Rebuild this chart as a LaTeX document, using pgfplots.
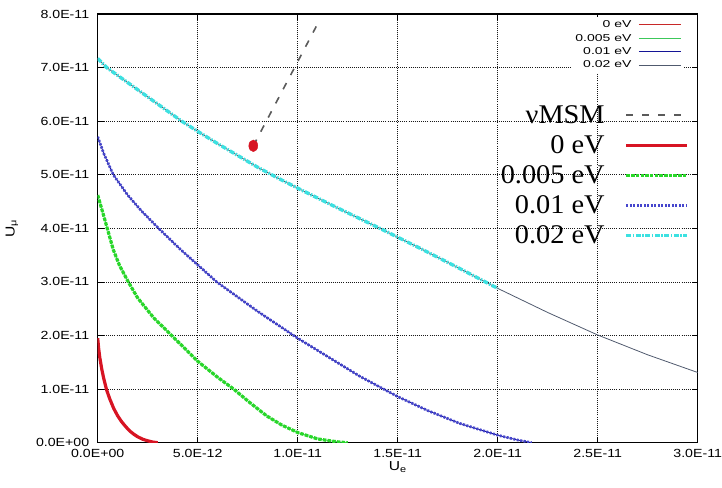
\documentclass[border=0pt]{standalone}
\usepackage{pgfplots}
\pgfplotsset{compat=1.18}
\usepackage{pgfplotstable}
\usepackage{fontspec}
\setmainfont{Liberation Sans}
\newfontfamily\ticksf[FakeStretch=1.2]{Liberation Sans}
\newfontfamily\legsf[FakeStretch=1.4]{Liberation Sans}
\newfontfamily\legrm[FakeStretch=1.05]{Liberation Serif}

\definecolor{cRed}{RGB}{215,20,35}
\definecolor{cGreen}{RGB}{40,215,40}
\definecolor{cBlue}{RGB}{70,70,205}
\definecolor{cCyan}{RGB}{60,225,225}
\definecolor{tRed}{RGB}{200,40,40}
\definecolor{tGreen}{RGB}{60,200,90}
\definecolor{tBlue}{RGB}{20,20,150}
\definecolor{tGray}{RGB}{80,90,110}
\definecolor{nuGray}{RGB}{90,90,90}

\pgfplotstableread{
x y
0 1.95e-11
0.05e-12 1.75e-11
0.1e-12 1.6e-11
0.2e-12 1.38e-11
0.3e-12 1.2e-11
0.45e-12 0.98e-11
0.6e-12 0.82e-11
0.8e-12 0.64e-11
1.0e-12 0.5e-11
1.2e-12 0.39e-11
1.4e-12 0.3e-11
1.6e-12 0.22e-11
1.8e-12 0.16e-11
2.0e-12 0.11e-11
2.25e-12 0.065e-11
2.5e-12 0.035e-11
2.75e-12 0.012e-11
3.0e-12 0
}\tabRed

\pgfplotstableread{
x y
0 4.62e-11
0.25e-12 4.3e-11
0.5e-12 3.97e-11
0.78e-12 3.6e-11
1.1e-12 3.3e-11
1.53e-12 3.0e-11
2.0e-12 2.7e-11
2.8e-12 2.33e-11
3.7e-12 2.0e-11
5.0e-12 1.52e-11
6.0e-12 1.22e-11
6.8e-12 1.0e-11
7.6e-12 0.75e-11
8.45e-12 0.5e-11
9.2e-12 0.33e-11
10e-12 0.19e-11
11e-12 0.07e-11
12e-12 0.015e-11
12.5e-12 0
}\tabGreen

\pgfplotstableread{
x y
0 5.71e-11
0.3e-12 5.4e-11
0.78e-12 5.0e-11
1.5e-12 4.62e-11
2.2e-12 4.32e-11
3.1e-12 3.98e-11
4.1e-12 3.62e-11
5.95e-12 3.0e-11
8.0e-12 2.45e-11
10e-12 1.95e-11
13.1e-12 1.24e-11
15e-12 0.86e-11
16.5e-12 0.6e-11
18.1e-12 0.36e-11
20e-12 0.14e-11
21e-12 0.05e-11
21.7e-12 0
}\tabBlue

\pgfplotstableread{
x y
0 7.17e-11
0.45e-12 7.0e-11
1.5e-12 6.72e-11
3e-12 6.32e-11
4.2e-12 6.0e-11
5e-12 5.81e-11
6e-12 5.58e-11
7e-12 5.36e-11
8e-12 5.14e-11
9e-12 4.94e-11
10e-12 4.75e-11
12e-12 4.38e-11
14e-12 4.02e-11
16e-12 3.65e-11
18e-12 3.27e-11
20e-12 2.88e-11
}\tabCyan

\pgfplotstableread{
x y
0 7.17e-11
0.45e-12 7.0e-11
1.5e-12 6.72e-11
3e-12 6.32e-11
4.2e-12 6.0e-11
5e-12 5.81e-11
6e-12 5.58e-11
7e-12 5.36e-11
8e-12 5.14e-11
9e-12 4.94e-11
10e-12 4.75e-11
12e-12 4.38e-11
14e-12 4.02e-11
16e-12 3.65e-11
18e-12 3.27e-11
20e-12 2.88e-11
22.5e-12 2.43e-11
25e-12 2.01e-11
27.5e-12 1.64e-11
30e-12 1.31e-11
}\tabGray

\begin{document}
\begin{tikzpicture}
\useasboundingbox (-97.7pt,-44.3pt) rectangle (624.3pt,442.7pt);
\pgfplotsset{base/.style={scale only axis, width=600pt, height=428.7pt,
  xmin=0, xmax=3e-11, ymin=0, ymax=8e-11, at={(0pt,0pt)}, anchor=south west,
  scaled ticks=false}}
\begin{axis}[base,
  xtick={0,5e-12,1e-11,1.5e-11,2e-11,2.5e-11,3e-11},
  xticklabels={0.0E+00,5.0E-12,1.0E-11,1.5E-11,2.0E-11,2.5E-11,3.0E-11},
  ytick={0,1e-11,2e-11,3e-11,4e-11,5e-11,6e-11,7e-11,8e-11},
  yticklabels={0.0E+00,1.0E-11,2.0E-11,3.0E-11,4.0E-11,5.0E-11,6.0E-11,7.0E-11,8.0E-11},
  tick label style={font=\ticksf\fontsize{11.8}{13}\selectfont},
  xticklabel style={yshift=-3pt},
  yticklabel style={xshift=-5pt},
  tick align=inside, major tick length=6pt, tick style={black,line width=0.8pt},
  axis line style={black, line width=1.3pt},
  grid=major, grid style={black!90, line width=0.7pt, dash pattern=on 1pt off 1.1pt},
  xlabel={U\textsubscript{e}}, ylabel={U\textsubscript{μ}},
  label style={font=\ticksf\fontsize{13}{15}\selectfont},
  xlabel style={at={(axis description cs:0.5,-0.056)}, anchor=center},
  ylabel style={at={(axis description cs:-0.143,0.5)}, anchor=center},
  legend style={at={(0.978,0.994)}, anchor=north east, draw=none, fill=white,
    inner sep=3pt, row sep=3.4pt, column sep=7pt,
    font=\legsf\fontsize{10}{11}\selectfont,
    nodes={inner sep=0pt, text height=8pt, text depth=2pt}},
  legend cell align=right, legend plot pos=right,
  legend image code/.code={\draw[#1] (0pt,0pt) -- (42pt,0pt);},
]
\addplot[tRed, line width=0.8pt] table {\tabRed};
\addlegendentry{0 eV}
\addplot[tGreen, line width=0.8pt] table {\tabGreen};
\addlegendentry{0.005 eV}
\addplot[tBlue, line width=0.8pt] table {\tabBlue};
\addlegendentry{0.01 eV}
\addplot[tGray, line width=0.8pt] table {\tabGray};
\addlegendentry{0.02 eV}
\end{axis}

\begin{axis}[base, hide axis,
  legend style={at={(0.986,0.797)}, anchor=north east, draw=none, fill=none,
    inner sep=0pt, row sep=2pt, column sep=20pt,
    font=\legrm\fontsize{27}{30}\selectfont,
    nodes={inner sep=0pt, text height=22pt, text depth=6pt}},
  legend cell align=right, legend plot pos=right,
  legend image code/.code={\draw[#1] (0pt,0pt) -- (61pt,0pt);},
]
\addplot[nuGray, line width=1.6pt, dash pattern=on 7pt off 9pt] coordinates {(7.78e-12,5.54e-11) (11.03e-12,7.84e-11)};
\addlegendentry{νMSM}
\addplot[cRed, line width=3.2pt] table {\tabRed};
\addlegendentry{0 eV}
\addplot[cGreen, line width=3.2pt, dash pattern=on 3.5pt off 1.2pt] table {\tabGreen};
\addlegendentry{0.005 eV}
\addplot[cBlue, line width=2.7pt, dash pattern=on 2pt off 1.5pt] table {\tabBlue};
\addlegendentry{0.01 eV}
\addplot[cCyan, line width=3.4pt, dash pattern=on 5pt off 1.5pt on 1.5pt off 1.5pt] table {\tabCyan};
\addlegendentry{0.02 eV}
\addplot[only marks, mark=*, mark size=4.5pt, color=cRed, mark options={yscale=1.3}, forget plot] coordinates {(7.78e-12,5.54e-11)};
\end{axis}
\end{tikzpicture}
\end{document}
